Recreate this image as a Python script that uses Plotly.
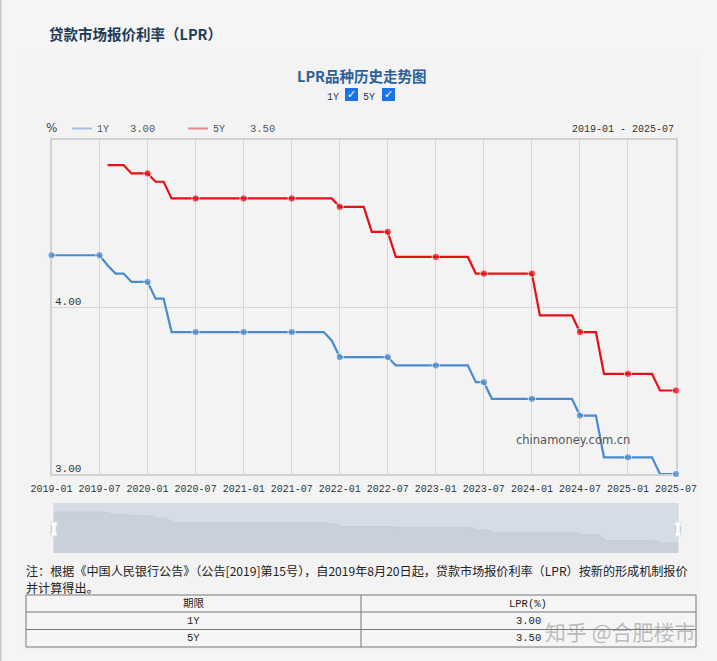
import plotly.graph_objects as go

months = ["%d-%02d" % (y, m) for y in range(2019, 2026) for m in range(1, 13)][:79]

lpr_1y = [4.31] * 7 + [4.25, 4.20, 4.20, 4.15, 4.15, 4.15, 4.05, 4.05] + [3.85] * 20 + [3.80] + [3.70] * 7 \
    + [3.65] * 10 + [3.55, 3.55] + [3.45] * 11 + [3.35] * 3 + [3.10] * 7 + [3.00] * 3
lpr_5y = [None] * 7 + [4.85, 4.85, 4.85, 4.80, 4.80, 4.80, 4.75, 4.75] + [4.65] * 21 + [4.60] * 4 + [4.45] * 3 \
    + [4.30] * 10 + [4.20] * 8 + [3.95] * 5 + [3.85] * 3 + [3.60] * 7 + [3.50] * 3

tick_labels = months[::6]
y_ticks = [3, 4]
y_labels = ["3.00", "4.00"]
table_head = ["期限", "LPR(%)"]
table_terms = ["1Y", "5Y"]
table_rates = ["%.2f" % lpr_1y[-1], "%.2f" % lpr_5y[-1]]

W, H = 717, 661
BLUE = "#4a8bd0"
RED = "#e60f14"
MONO = "'Liberation Mono', 'Noto Sans CJK SC', monospace"
CJK = "'Noto Sans CJK SC', sans-serif"


def px(x):
    return x / W


def py(y):
    return 1 - y / H


def label(x, y, text, size=10, color="#333333", anchor="center", font=MONO, bold=False):
    if bold:
        text = "<b>" + text + "</b>"
    # annotations carry a little padding of their own
    if anchor == "left":
        x -= 2
    elif anchor == "right":
        x += 1
    return dict(x=px(x), y=py(y), xref="paper", yref="paper", text=text, showarrow=False, xanchor=anchor,
                yanchor="middle", font=dict(size=size, color=color, family=font))


def box(x0, y0, x1, y1, fill, line=None, width=0):
    return dict(type="rect", xref="paper", yref="paper", x0=px(x0), x1=px(x1), y0=py(y0), y1=py(y1),
                fillcolor=fill, line=dict(color=line or fill, width=width), layer="below")


marker_sizes = [7.5 if i % 6 == 0 else 0 for i in range(len(months))]

fig = go.Figure()

# main chart
fig.add_trace(go.Scatter(x=months, y=lpr_1y, mode="lines+markers", line=dict(color=BLUE, width=2.2),
                         marker=dict(size=marker_sizes, color=BLUE), cliponaxis=False))
fig.add_trace(go.Scatter(x=months, y=lpr_5y, mode="lines+markers", line=dict(color=RED, width=2.2),
                         marker=dict(size=marker_sizes, color=RED), cliponaxis=False))

# range slider preview
fig.add_trace(go.Scatter(x=months, y=lpr_1y, mode="lines", line=dict(color="#c3ccd8", width=1), fill="tozeroy",
                         fillcolor="#c8d0dc", xaxis="x2", yaxis="y2"))

annotations = [
    label(49, 33, "贷款市场报价利率（LPR）", 14.5, "#1f3a56", "left", CJK, True),
    label(361, 75.5, "LPR品种历史走势图", 14.5, "#2a6099", "center", CJK, True),
    label(333, 97, "1Y", 10),
    label(369, 97, "5Y", 10),
    label(351.5, 94, "✓", 11, "white", font="'DejaVu Sans'", bold=True),
    label(388.5, 94, "✓", 11, "white", font="'DejaVu Sans'", bold=True),
    label(46, 128, "%", 12, "#444444", "left", "'DejaVu Sans'"),
    label(97, 129, "1Y", 10, "#555555", "left"),
    label(130, 129, table_rates[0], 10.5, "#555555", "left"),
    label(213, 129, "5Y", 10, "#555555", "left"),
    label(250, 129, table_rates[1], 10.5, "#555555", "left"),
    label(675, 129, months[0] + " - " + months[-1], 10, "#333333", "right"),
    label(516, 440, "chinamoney.com.cn", 11.5, "#555555", "left", "'DejaVu Sans'"),
    label(26, 570, "注：根据《中国人民银行公告》（公告[2019]第15号），自2019年8月20日起，贷款市场报价利率（LPR）按新的形成机制报价",
          12.1, "#222222", "left", CJK),
    label(26, 587, "并计算得出。", 12.1, "#222222", "left", CJK),
    label(54, 528, "||", 8, "#aaaaaa"),
    label(678, 528, "||", 8, "#aaaaaa"),
]

# y labels sit inside the plot, just above their grid line
for val, text in zip(y_ticks, y_labels):
    annotations.append(dict(x=px(53), y=val, xref="paper", yref="y", text=text, showarrow=False, xanchor="left",
                            yanchor="bottom", yshift=-3, font=dict(size=11, color="#333333", family=MONO)))

# table under the chart
col_centers = [193.5, 528]
row_centers = [604, 621, 638]
for col, head, rows in zip(col_centers, table_head, [table_terms, table_rates]):
    annotations.append(label(col, row_centers[0], head, 10.5, "#222222"))
    for y, text in zip(row_centers[1:], rows):
        annotations.append(label(col, y, text, 10.5, "#222222"))
annotations.append(label(545, 631, "知乎 @合肥楼市", 21, "rgba(130,130,130,0.5)", "left", CJK))

shapes = [
    box(22, 54, 700, 652, "#f3f3f4"),
    box(0, 0, 1.5, H, "#c9c9c9"),
    box(345, 88, 358, 101, "#1a73e8"),
    box(382, 88, 395, 101, "#1a73e8"),
    box(72, 127.5, 92, 129.5, "#a5bfdc"),
    box(188, 127.5, 208, 129.5, "#e08a8a"),
    box(53.5, 503, 678.5, 553, "#d5dce6"),
    dict(box(51, 522, 57, 536, "#ffffff", "#e0e0e0", 1), layer="above"),
    dict(box(675, 522, 681, 536, "#ffffff", "#e0e0e0", 1), layer="above"),
    box(26, 595, 696, 647, "#f5f5f5", "#777777", 1),
    dict(box(361, 595, 361, 647, "#777777", "#777777", 1), type="line"),
    dict(box(26, 612, 696, 612, "#777777", "#777777", 1), type="line"),
    dict(box(26, 629.5, 696, 629.5, "#777777", "#777777", 1), type="line"),
]

fig.update_layout(
    width=W, height=H, margin=dict(l=0, r=0, t=0, b=0, autoexpand=False),
    paper_bgcolor="#f5f5f5", plot_bgcolor="#f4f4f5",
    showlegend=False, annotations=annotations, shapes=shapes,
    xaxis=dict(domain=[px(51.5), px(676)], type="category", categoryorder="array", categoryarray=months,
               range=[0, 78], tickmode="array", tickvals=tick_labels, ticktext=tick_labels, showgrid=True,
               gridcolor="#d3d6da", gridwidth=1, ticks="outside", ticklen=4, tickcolor="rgba(0,0,0,0)",
               zeroline=False, showline=True, linecolor="#cfd3d8", automargin=False, layer="below traces",
               linewidth=2, mirror=True, tickfont=dict(size=10, color="#333333", family=MONO), tickangle=0),
    yaxis=dict(domain=[py(474), py(140)], range=[3, 5], tickmode="array", tickvals=y_ticks, showticklabels=False,
               showgrid=True, gridcolor="#d3d6da", gridwidth=1, ticks="", layer="below traces",
               zeroline=False, showline=True, linecolor="#cfd3d8", linewidth=2, mirror=True, automargin=False),
    xaxis2=dict(domain=[px(53.5), px(678.5)], anchor="y2", type="category", categoryorder="array",
                categoryarray=months, range=[0, 78], visible=False),
    yaxis2=dict(domain=[py(553), py(503)], anchor="x2", range=[2.58, 4.69], visible=False),
)

fig.write_html("out.html", config=dict(displayModeBar=False),
               post_script="document.body.style.margin='0';document.body.style.overflow='hidden';")
